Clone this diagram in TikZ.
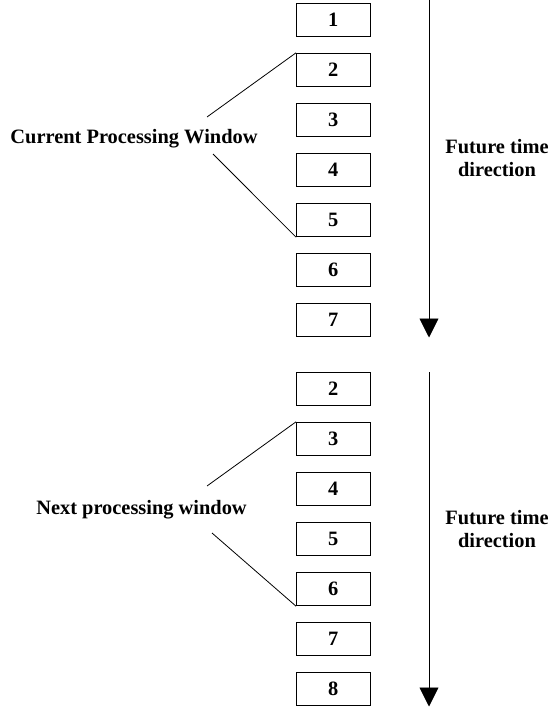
\documentclass[tikz,border=0pt]{standalone}
\usepackage{fontspec}
\setmainfont{Liberation Serif}
\usetikzlibrary{arrows.meta}
\begin{document}
\begin{tikzpicture}[x=1pt,y=-1pt,
  slot/.style={draw,line width=0.9pt,minimum width=73.5pt,minimum height=33.5pt,inner sep=0pt,
    font=\fontsize{20.4}{23}\selectfont\bfseries},
  lbl/.style={font=\fontsize{20.4}{23}\selectfont\bfseries,inner sep=0pt,align=center},
  lead/.style={line width=0.8pt},
  timeline/.style={line width=0.9pt,-{Triangle[width=19pt,length=19pt]}}]
\useasboundingbox (0,0) rectangle (552,711);

% first window of samples
\foreach \i in {1,...,7}
  \node[slot] (u\i) at (333.25,{20+50*(\i-1)}) {\i};
% window shifted by one sample
\foreach \i in {2,...,8}
  \node[slot] (l\i) at (333.25,{389+50*(\i-2)}) {\i};

% labels
\node[lbl] (cur) at (134,139) {Current Processing Window};
\node[lbl] (nxt) at (141.5,510) {Next processing window};
\node[lbl] (ft1) at (497,158) {Future time\\direction};
\node[lbl] (ft2) at (497,529) {Future time\\direction};

% leader lines from the labels to the window limits
\coordinate (c1) at (207,117);
\coordinate (c2) at (213,154);
\coordinate (n1) at (207,486);
\coordinate (n2) at (212,533);
\draw[lead] (c1) -- (u2.north west);
\draw[lead] (c2) -- (u5.south west);
\draw[lead] (n1) -- (l3.north west);
\draw[lead] (n2) -- (l6.south west);

% time arrows
\coordinate (a1) at (429,0);
\coordinate (a2) at (429,337.5);
\coordinate (b1) at (429,372);
\coordinate (b2) at (429,706.5);
\draw[timeline] (a1) -- (a2);
\draw[timeline] (b1) -- (b2);
\end{tikzpicture}
\end{document}
